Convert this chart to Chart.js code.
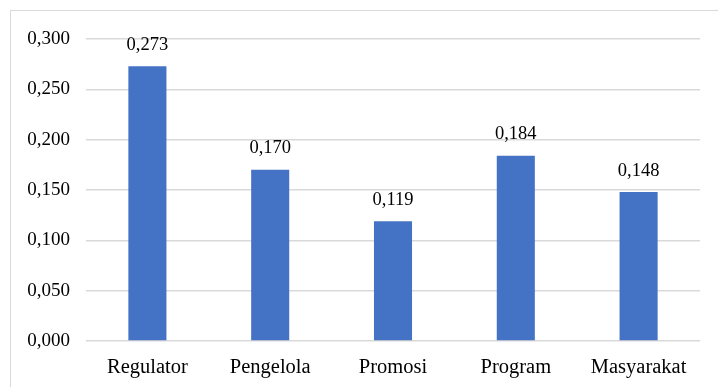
<!DOCTYPE html>
<html>
<head>
<meta charset="utf-8">
<script src="https://cdn.jsdelivr.net/npm/chart.js@4/dist/chart.umd.min.js"></script>
<style>
    html, body { margin: 0; padding: 0; background: #fff; overflow: hidden; }
    .wrap { position: relative; width: 718px; height: 387px; }
    .frame { position: absolute; left: 10px; top: 10px; width: 760px; height: 420px; border: 1px solid #d9d9d9; }
    canvas { position: absolute; left: 0; top: 0; }
</style>
</head>
<body>
<div class="wrap">
    <div class="frame"></div>
    <canvas class="barChart" width="718" height="387"></canvas>
</div>
<script>
const categories = ['Regulator', 'Pengelola', 'Promosi', 'Program', 'Masyarakat'];
const values = [0.273, 0.170, 0.119, 0.184, 0.148];
const yTicks = [0, 0.05, 0.10, 0.15, 0.20, 0.25, 0.30];

const FONT = '"Liberation Serif", "Times New Roman", serif';

// comma as decimal separator, three decimals
function fmt(v) {
    return v.toFixed(3).replace('.', ',');
}

// draw the value above each bar
const valueLabels = {
    id: 'valueLabels',
    afterDatasetsDraw(chart) {
        const ctx = chart.ctx;
        const meta = chart.getDatasetMeta(0);
        ctx.save();
        ctx.font = '18.5px ' + FONT;
        ctx.fillStyle = '#000';
        ctx.textAlign = 'center';
        ctx.textBaseline = 'bottom';
        meta.data.forEach((bar, i) => {
            ctx.fillText(fmt(values[i]), bar.x, bar.y - 12);
        });
        ctx.restore();
    }
};

function createBarChart() {
    const ctx = document.querySelector('.barChart').getContext('2d');
    return new Chart(ctx, {
        type: 'bar',
        data: {
            labels: categories,
            datasets: [{
                data: values,
                backgroundColor: '#4472c4',
                borderWidth: 0,
                barPercentage: 0.31,
                categoryPercentage: 1
            }]
        },
        options: {
            responsive: false,
            animation: false,
            layout: {
                padding: { left: 10, top: 39, right: 18, bottom: 0 }
            },
            plugins: {
                legend: { display: false },
                tooltip: { enabled: false }
            },
            scales: {
                x: {
                    grid: { display: false, drawTicks: false },
                    border: { display: false },
                    ticks: {
                        color: '#000',
                        padding: 14,
                        font: { family: FONT, size: 20.5 }
                    },
                    afterFit: scale => { scale.height = 46; }
                },
                y: {
                    min: 0,
                    max: 0.3,
                    afterBuildTicks: scale => {
                        scale.ticks = yTicks.map(v => ({ value: v }));
                    },
                    grid: { color: '#d9d9d9', lineWidth: 1.5, drawTicks: false },
                    border: { display: false },
                    ticks: {
                        color: '#000',
                        padding: 16,
                        font: { family: FONT, size: 19 },
                        callback: v => fmt(v)
                    },
                    afterFit: scale => { scale.width = 76; }
                }
            }
        },
        plugins: [valueLabels]
    });
}

createBarChart();
</script>
</body>
</html>
